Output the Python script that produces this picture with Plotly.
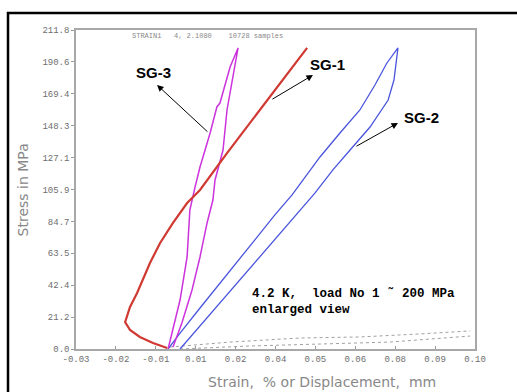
import plotly.graph_objects as go
import numpy as np

# ---- data (strain / displacement vs stress) ----
sg1_x = [-0.0003, -0.0049, -0.0092, -0.0124, -0.0140, -0.0134, -0.0124, -0.0101, -0.0082,
         -0.0059, -0.0026, 0.0016, 0.0062, 0.0104, 0.0192, 0.0267, 0.0365, 0.0453]
sg1_y = [0.7, 4.0, 8.0, 12.6, 17.9, 21.2, 27.9, 37.2, 45.8,
         57.1, 70.4, 83.7, 96.9, 105.6, 130.1, 150.1, 176.6, 199.9]

sg3_x = [0.0000, 0.0016, 0.0039, 0.0062, 0.0071, 0.0088, 0.0104, 0.0137, 0.0159, 0.0169, 0.0202, 0.0228,
         0.0212, 0.0192, 0.0179, 0.0153, 0.0146, 0.0127, 0.0104, 0.0078, 0.0045, 0.0016]
sg3_y = [0.0, 12.6, 32.5, 61.1, 92.3, 107.6, 120.8, 143.4, 160.7, 163.3, 187.2, 199.9,
         180.6, 158.7, 132.1, 112.2, 98.9, 83.7, 61.1, 39.2, 17.3, 1.3]

sg2_x = [0.0000, 0.0039, 0.0104, 0.0169, 0.0267, 0.0348, 0.0404, 0.0440, 0.0495, 0.0560, 0.0625, 0.0674, 0.0713, 0.0749,
         0.0736, 0.0717, 0.0658, 0.0593, 0.0537, 0.0479, 0.0397, 0.0316, 0.0234, 0.0153, 0.0088, 0.0039]
sg2_y = [0.0, 10.6, 27.2, 43.8, 69.1, 89.0, 102.3, 112.2, 127.5, 143.4, 158.7, 175.3, 189.9, 199.9,
         178.6, 165.3, 147.4, 132.1, 118.9, 103.6, 84.3, 65.1, 45.8, 26.6, 11.3, 0.0]

disp1_x = [0.0006, 0.0202, 0.0430, 0.0625, 0.0821, 0.0984]
disp1_y = [1.3, 4.6, 7.3, 8.0, 10.0, 12.0]
disp2_x = [0.0039, 0.0267, 0.0495, 0.0723, 0.0984]
disp2_y = [0.0, 2.0, 3.3, 4.6, 8.6]

x_tickvals = list(np.linspace(-0.03, 0.10, 11))
x_ticktext = ["-0.03", "-0.02", "-0.01", "0.01", "0.02", "0.04", "0.05", "0.06", "0.08", "0.09", "0.10"]
y_tickvals = list(np.linspace(0, 211.8, 11))
y_ticktext = ["0.0", "21.2", "42.4", "63.5", "84.7", "105.9", "127.1", "148.3", "169.4", "190.6", "211.8"]

fig = go.Figure()
fig.add_trace(go.Scatter(x=disp1_x, y=disp1_y, mode="lines",
                         line=dict(color="#a0a0a0", width=1, dash="dot")))
fig.add_trace(go.Scatter(x=disp2_x, y=disp2_y, mode="lines",
                         line=dict(color="#a0a0a0", width=1, dash="dot")))
fig.add_trace(go.Scatter(x=sg2_x, y=sg2_y, mode="lines",
                         line=dict(color="#4a55dd", width=1.3)))
fig.add_trace(go.Scatter(x=sg3_x, y=sg3_y, mode="lines",
                         line=dict(color="#cc33dd", width=1.5)))
fig.add_trace(go.Scatter(x=sg1_x, y=sg1_y, mode="lines",
                         line=dict(color="#d03a32", width=2.2)))

tickfont = dict(family="Liberation Mono", size=9, color="#6e6e6e")
fig.update_xaxes(range=[-0.03, 0.10], tickvals=x_tickvals, ticktext=x_ticktext,
                 showgrid=False, zeroline=False, showline=True, mirror=True,
                 linecolor="#a8a8a8", linewidth=1.5, ticks="inside", ticklen=3,
                 tickcolor="#999999", tickfont=tickfont)
fig.update_yaxes(range=[0, 211.8], tickvals=y_tickvals, ticktext=y_ticktext,
                 showgrid=False, zeroline=False, showline=True, mirror=True,
                 linecolor="#a8a8a8", linewidth=1.5, ticks="outside", ticklen=3,
                 tickcolor="#999999", tickfont=tickfont)

ann = []
lab_font = dict(family="Liberation Sans", size=15, color="black")
for txt, tx, ty in [("SG-3", -0.0049, 183.9), ("SG-1", 0.0521, 188.6), ("SG-2", 0.0827, 154.0)]:
    ann.append(dict(x=tx, y=ty, xref="x", yref="y", text="<b>" + txt + "</b>",
                    showarrow=False, font=lab_font))
for hx, hy, tx, ty in [(-0.0036, 175.3, 0.0133, 143.4),
                       (0.0472, 181.9, 0.0335, 165.3),
                       (0.0749, 150.1, 0.0609, 134.1)]:
    ann.append(dict(x=hx, y=hy, ax=tx, ay=ty, xref="x", yref="y", axref="x", ayref="y",
                    text="", showarrow=True, arrowhead=2, arrowsize=1.3, arrowwidth=1,
                    arrowcolor="black"))
ann.append(dict(x=0.0267, y=31.5, xref="x", yref="y", xanchor="left", yanchor="middle",
                align="left", showarrow=False,
                text="<b>4.2 K,  load No 1 \u02dc 200 MPa</b><br><b>enlarged view</b>",
                font=dict(family="Liberation Mono", size=12.5, color="black")))
ann.append(dict(x=0.33, y=1.0, xref="paper", yref="paper", xanchor="center", yanchor="top",
                showarrow=False, text="STRAIN1   4, 2.1080    10728 samples",
                font=dict(family="Liberation Mono", size=7, color="#888888")))
ann.append(dict(x=0.617, y=-0.105, xref="paper", yref="paper", showarrow=False,
                xanchor="center", yanchor="middle",
                text="Strain,  % or Displacement,  mm",
                font=dict(family="DejaVu Sans", size=14, color="#888888")))
ann.append(dict(x=-0.133, y=0.5, xref="paper", yref="paper", showarrow=False, textangle=-90,
                xanchor="center", yanchor="middle",
                text="Stress in MPa",
                font=dict(family="DejaVu Sans", size=14, color="#888888")))

shapes = [dict(type="path", xref="paper", yref="paper",
               path="M -0.1704 -0.3 L -0.1704 1.0533 L 1.3 1.0533",
               line=dict(color="black", width=2.5))]

fig.update_layout(width=517, height=392, margin=dict(l=76, r=42, t=30, b=43),
                  paper_bgcolor="white", plot_bgcolor="white", showlegend=False,
                  annotations=ann, shapes=shapes)
fig.write_html("out.html")
